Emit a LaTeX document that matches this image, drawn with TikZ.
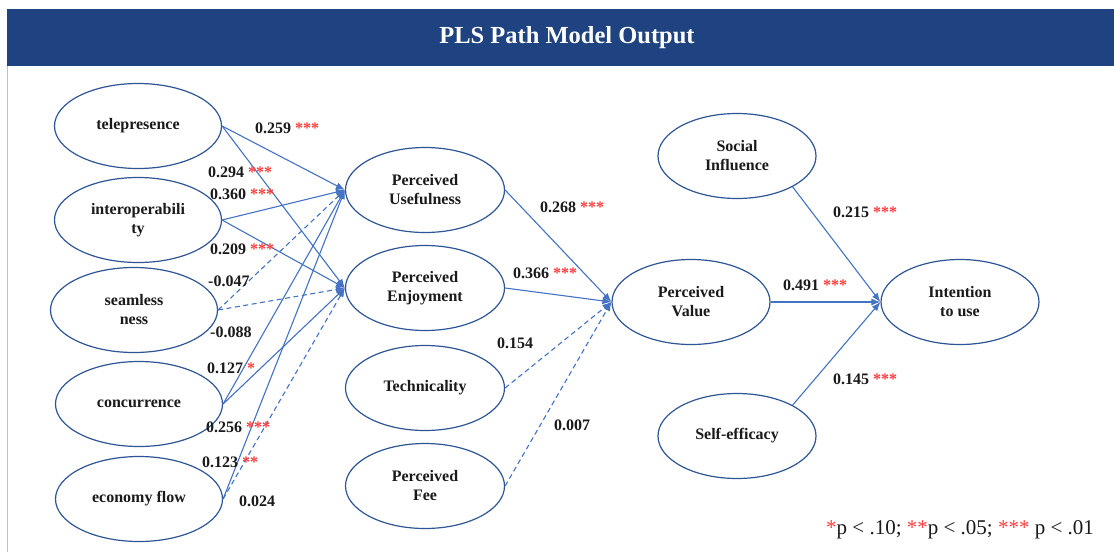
\documentclass[tikz,border=0pt]{standalone}
\usepackage{fontspec}
\setmainfont{Liberation Serif}
\usetikzlibrary{shapes.geometric,arrows.meta}
\definecolor{barblue}{HTML}{1E4380}
\definecolor{edgeblue}{HTML}{2F5597}
\definecolor{lineblue}{HTML}{4472C4}
\definecolor{starred}{HTML}{FF3B3B}
\definecolor{txt}{HTML}{1A1A1A}
\newcommand{\sig}[1]{\textcolor{starred}{#1}}
\tikzset{
  latent/.style={ellipse, draw=edgeblue, line width=1.2pt, fill=white, inner sep=0pt,
    minimum width=#1, minimum height=85pt, align=center, text=txt,
    font=\fontsize{16}{19}\selectfont\bfseries},
  latent/.default=160pt,
  path/.style={draw=lineblue, line width=1.1pt, -{Latex[length=9pt,width=7pt]}},
  ns/.style={path, dashed, dash pattern=on 5pt off 3.5pt},
  coef/.style={anchor=west, inner sep=0pt, text=txt, font=\fontsize{16}{19}\selectfont\bfseries},
}
\begin{document}
\begin{tikzpicture}[x=1pt,y=-1pt]
\useasboundingbox (0,0) rectangle (1114,552);
\fill[white] (0,0) rectangle (1114,552);
% title bar
\fill[barblue] (7,9) rectangle (1114,66);
\draw[gray!50, line width=1pt] (7.5,66) -- (7.5,552);
\node[text=white, font=\fontsize{24.5}{28}\selectfont\bfseries] (title) at (567,38) {PLS Path Model Output};

% left column
\node[latent=167pt] (tele)  at (138,126) {telepresence};
\node[latent=167pt] (inter) at (138,220) {interoperabili\\ty};
\node[latent=167pt] (seam)  at (134,310) {seamless\\ness};
\node[latent=167pt] (conc)  at (139,404) {concurrence};
\node[latent=167pt] (econ)  at (139,499) {economy flow};

% middle column
\node[latent=159pt] (pu)   at (425,190) {Perceived\\Usefulness};
\node[latent=159pt] (pe)   at (425,288) {Perceived\\Enjoyment};
\node[latent=159pt] (tech) at (425,388) {Technicality};
\node[latent=159pt] (fee)  at (425,486) {Perceived\\Fee};

% right part
\node[latent=158pt] (pv)  at (691,302) {Perceived\\Value};
\node[latent=158pt] (itu) at (960,302) {Intention\\to use};
\node[latent=158pt] (si)  at (737,156) {Social\\Influence};
\node[latent=158pt] (se)  at (737,436) {Self-efficacy};

% paths
\draw[path] (tele.east) -- (pu.west);
\draw[path] (tele.east) -- (pe.west);
\draw[path] (inter.east) -- (pu.west);
\draw[path] (inter.east) -- (pe.west);
\draw[ns] (seam.east) -- (pu.west);
\draw[ns] (seam.east) -- (pe.west);
\draw[path] (conc.east) -- (pu.west);
\draw[path] (conc.east) -- (pe.west);
\draw[path] (econ.east) -- (pu.west);
\draw[ns] (econ.east) -- (pe.west);

\draw[path] (pu.east) -- (pv.west);
\draw[path] (pe.east) -- (pv.west);
\draw[ns] (tech.east) -- (pv.west);
\draw[ns] (fee.east) -- (pv.west);

\draw[path] (si.-29) -- (itu.west);
\draw[path] (pv.east) -- (itu.west);
\draw[path] (se.29) -- (itu.west);

% coefficients
\node[coef] (c1)  at (255,128) {0.259 \sig{***}};
\node[coef] (c2)  at (208,172) {0.294 \sig{***}};
\node[coef] (c3)  at (210,194) {0.360 \sig{***}};
\node[coef] (c4)  at (210,249) {0.209 \sig{***}};
\node[coef] (c5)  at (208,281) {-0.047};
\node[coef] (c6)  at (210,332) {-0.088};
\node[coef] (c7)  at (207,368) {0.127 \sig{*}};
\node[coef] (c8)  at (206,427) {0.256 \sig{***}};
\node[coef] (c9)  at (202,462) {0.123 \sig{**}};
\node[coef] (c10) at (239,501) {0.024};
\node[coef] (c11) at (540,207) {0.268 \sig{***}};
\node[coef] (c12) at (513,273) {0.366 \sig{***}};
\node[coef] (c13) at (497,343) {0.154};
\node[coef] (c14) at (554,425) {0.007};
\node[coef] (c15) at (833,212) {0.215 \sig{***}};
\node[coef] (c16) at (783,285) {0.491 \sig{***}};
\node[coef] (c17) at (833,379) {0.145 \sig{***}};

% legend
\node[anchor=west, inner sep=0pt, text=txt, font=\fontsize{21}{24}\selectfont] (legend) at (826,530)
  {\sig{*}p < .10; \sig{**}p < .05; \sig{***} p < .01};
\end{tikzpicture}
\end{document}
